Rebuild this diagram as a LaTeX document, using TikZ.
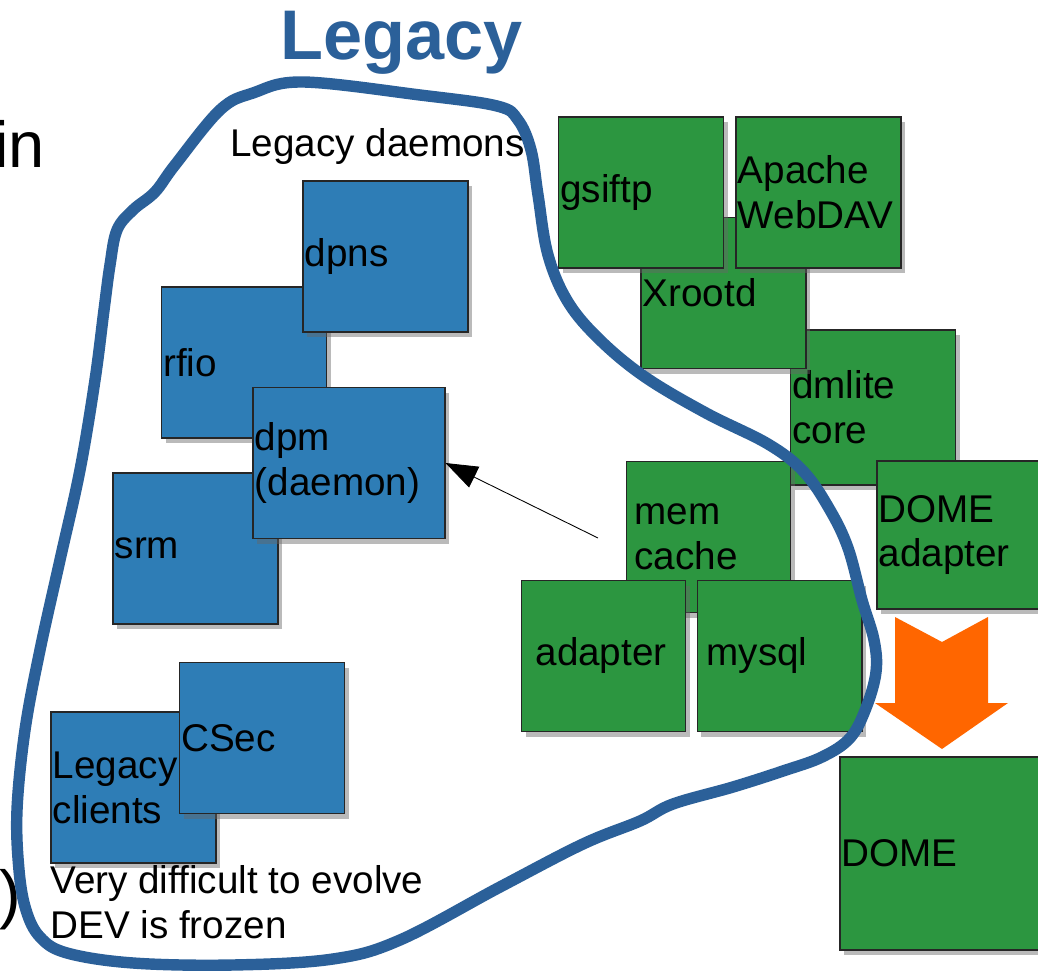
\documentclass[tikz,border=0pt]{standalone}
\usepackage{fontspec}
\setmainfont{Liberation Sans}
\usetikzlibrary{arrows.meta,shadows}

\definecolor{legacyblue}{RGB}{43,96,153}
\definecolor{daemonblue}{RGB}{46,125,182}
\definecolor{dmgreen}{RGB}{44,150,64}
\definecolor{domeorange}{RGB}{255,102,0}

\tikzset{
	daemon/.style={draw=black!85, line width=0.6pt, fill=daemonblue,
		drop shadow={shadow xshift=2.5pt, shadow yshift=-3pt, opacity=0.45, fill=black!60},
		minimum height=3.02cm, text width=3.23cm, inner xsep=1pt, inner ysep=0pt,
		align=left, font=\fontsize{22}{25.5}\selectfont},
	plugin/.style={daemon, fill=dmgreen},
	remark/.style={inner sep=0pt, align=left, font=\fontsize{22}{25.5}\selectfont},
	bigcut/.style={inner sep=0pt, anchor=base west, font=\fontsize{37}{44}\selectfont},
	legline/.style={draw=legacyblue, line width=6.5pt, line cap=round, line join=round}
}

\begin{document}
\begin{tikzpicture}[x=0.02cm,y=-0.02cm]

	\fill[white] (0,0) rectangle (1038,973);
	\useasboundingbox (0,0) rectangle (1038,973);
	\clip (0,0) rectangle (1038,973);

	\node[bigcut] (cutin) at (-6,168) {in};
	\node[bigcut] (cutparen) at (-1,916) {)};

	\node[inner sep=0pt, anchor=base west, text=legacyblue, font=\fontsize{40}{46}\selectfont\bfseries] (title) at (280,60) {Legacy};
	\node[remark, anchor=base west] (daemons) at (230,157) {Legacy daemons};

	\node[daemon] (rfio) at (244,362.5) {rfio};
	\node[daemon] (dpns) at (385.5,256.5) {dpns};
	\node[daemon] (srm) at (195.5,548.5) {srm};
	\node[daemon, text width=3.77cm] (dpm) at (349,463) {dpm\\(daemon)};

	\node[daemon] (clients) at (133.5,787.5) {Legacy\\clients};
	\node[daemon] (csec) at (262,738) {CSec};

	\node[remark, anchor=north west] (frozen) at (50,865) {Very difficult to evolve\\DEV is frozen};

	\node[plugin, minimum height=3.1cm] (dmlite) at (873,407.5) {dmlite\\core};
	\node[plugin] (xrootd) at (723.5,293) {Xrootd};
	\node[plugin] (gsiftp) at (641,192.5) {gsiftp};
	\node[plugin] (webdav) at (818.5,192.5) {Apache\\WebDAV};
	\node[plugin, text width=3.33cm, minimum height=2.96cm] (domeadapter) at (962,535) {DOME\\adapter};
	\node[plugin, inner xsep=4.8pt, text width=2.96cm] (memcache) at (708.5,537) {mem\\cache};
	\node[plugin, inner xsep=8.2pt, text width=2.72cm] (adapter) at (603.5,656) {adapter};
	\node[plugin, inner xsep=5.4pt, text width=2.92cm] (mysql) at (779.5,656) {mysql};
	\node[plugin, text width=4.03cm, minimum height=3.86cm] (dome) at (942.5,853.5) {DOME};

	\fill[domeorange] (895,617) -- (942,642) -- (988,617) -- (988,703) -- (1008,703)
		-- (942,749) -- (875,703) -- (895,703) -- cycle;

	\coordinate (pointer) at (598,538);
	\draw[line width=0.5pt, -{Triangle[length=0.64cm,width=0.46cm]}] (pointer) -- (dpm.east);

	\draw[legline] plot[smooth cycle, tension=0.6] coordinates {
		(303,82) (420,95) (497,106) (518,120) (531,150) (538,195) (548,255) (568,302)
		(600,340) (645,377) (706,413) (768,444) (804,472) (830,510) (848,548) (862,600)
		(874,640) (876,672) (866,708) (850,738) (822,757) (783,771) (733,787) (673,804)
		(640,821) (583,844) (500,887) (400,940) (333,959) (233,965) (133,963) (67,953)
		(40,937) (26,910) (19,870) (17,810) (25,730) (40,650) (60,560) (80,470)
		(95,380) (104,310) (110,265) (117,230) (133,210) (155,192) (175,165) (220,110)
		(253,93)};

\end{tikzpicture}
\end{document}
